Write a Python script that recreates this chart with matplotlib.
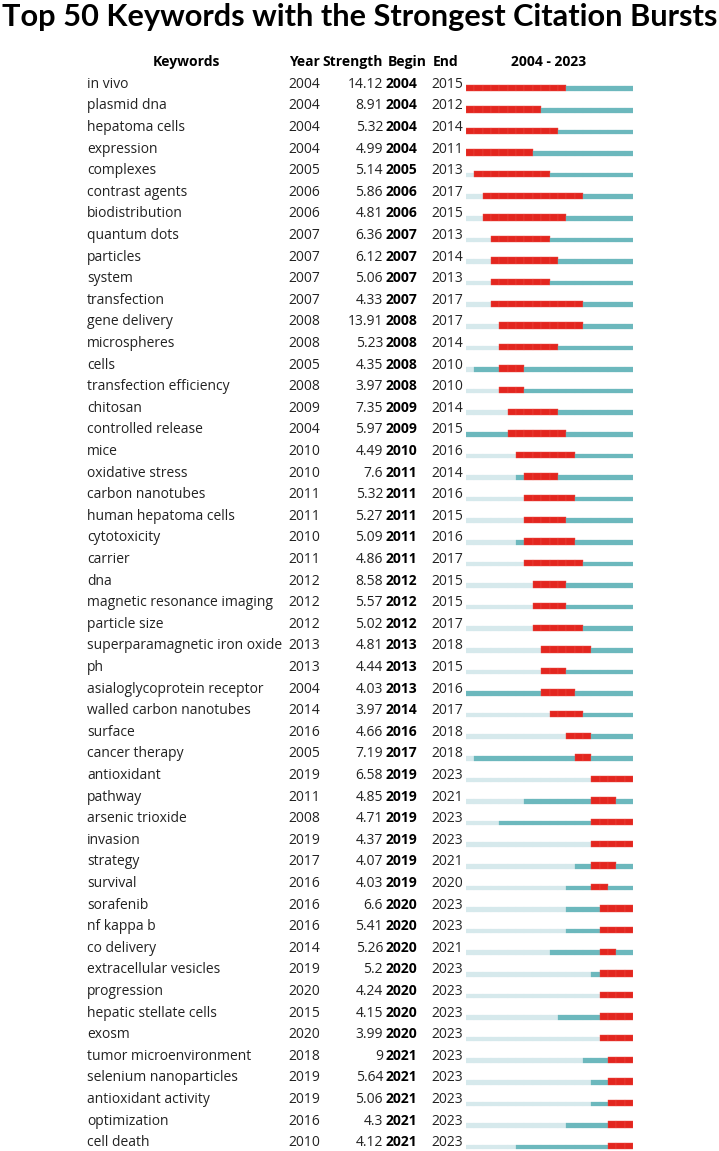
"""CiteSpace-style citation burst table: top 50 keywords, 2004-2023."""

import matplotlib

matplotlib.use("Agg")
import matplotlib.pyplot as plt
from matplotlib import font_manager

# ---- data -------------------------------------------------------------
keywords = [
    "in vivo", "plasmid dna", "hepatoma cells", "expression", "complexes",
    "contrast agents", "biodistribution", "quantum dots", "particles", "system",
    "transfection", "gene delivery", "microspheres", "cells",
    "transfection efficiency", "chitosan", "controlled release", "mice",
    "oxidative stress", "carbon nanotubes", "human hepatoma cells",
    "cytotoxicity", "carrier", "dna", "magnetic resonance imaging",
    "particle size", "superparamagnetic iron oxide", "ph",
    "asialoglycoprotein receptor", "walled carbon nanotubes", "surface",
    "cancer therapy", "antioxidant", "pathway", "arsenic trioxide", "invasion",
    "strategy", "survival", "sorafenib", "nf kappa b", "co delivery",
    "extracellular vesicles", "progression", "hepatic stellate cells", "exosm",
    "tumor microenvironment", "selenium nanoparticles", "antioxidant activity",
    "optimization", "cell death",
]
first_year = [
    2004, 2004, 2004, 2004, 2005, 2006, 2006, 2007, 2007, 2007,
    2007, 2008, 2008, 2005, 2008, 2009, 2004, 2010, 2010, 2011,
    2011, 2010, 2011, 2012, 2012, 2012, 2013, 2013, 2004, 2014,
    2016, 2005, 2019, 2011, 2008, 2019, 2017, 2016, 2016, 2016,
    2014, 2019, 2020, 2015, 2020, 2018, 2019, 2019, 2016, 2010,
]
strength = [
    "14.12", "8.91", "5.32", "4.99", "5.14", "5.86", "4.81", "6.36", "6.12", "5.06",
    "4.33", "13.91", "5.23", "4.35", "3.97", "7.35", "5.97", "4.49", "7.6", "5.32",
    "5.27", "5.09", "4.86", "8.58", "5.57", "5.02", "4.81", "4.44", "4.03", "3.97",
    "4.66", "7.19", "6.58", "4.85", "4.71", "4.37", "4.07", "4.03", "6.6", "5.41",
    "5.26", "5.2", "4.24", "4.15", "3.99", "9", "5.64", "5.06", "4.3", "4.12",
]
begin = [
    2004, 2004, 2004, 2004, 2005, 2006, 2006, 2007, 2007, 2007,
    2007, 2008, 2008, 2008, 2008, 2009, 2009, 2010, 2011, 2011,
    2011, 2011, 2011, 2012, 2012, 2012, 2013, 2013, 2013, 2014,
    2016, 2017, 2019, 2019, 2019, 2019, 2019, 2019, 2020, 2020,
    2020, 2020, 2020, 2020, 2020, 2021, 2021, 2021, 2021, 2021,
]
end = [
    2015, 2012, 2014, 2011, 2013, 2017, 2015, 2013, 2014, 2013,
    2017, 2017, 2014, 2010, 2010, 2014, 2015, 2016, 2014, 2016,
    2015, 2016, 2017, 2015, 2015, 2017, 2018, 2015, 2016, 2017,
    2018, 2018, 2023, 2021, 2023, 2023, 2021, 2020, 2023, 2023,
    2021, 2023, 2023, 2023, 2023, 2023, 2023, 2023, 2023, 2023,
]
start_year, stop_year = 2004, 2023
headers = ["Keywords", "Year", "Strength", "Begin", "End", f"{start_year} - {stop_year}"]
title = "Top 50 Keywords with the Strongest Citation Bursts"

# ---- style ------------------------------------------------------------
RED = "#e3261f"
TEAL = "#6cb8bd"
LIGHT = "#d6e9ec"
TXT = "#222222"

W, H, DPI = 719, 1151, 100
ROW_PX, ROW0_PX = 21.6, 83.0          # row pitch and centre of first row (px)

installed = {f.name for f in font_manager.fontManager.ttflist}
BODY = [f for f in ("Open Sans", "Noto Sans", "DejaVu Sans") if f in installed]
TITLE_FONT = [f for f in ("Lato", "Open Sans", "DejaVu Sans") if f in installed]
plt.rcParams["font.family"] = BODY
FS = 10.0

fig = plt.figure(figsize=(W / DPI, H / DPI), dpi=DPI)
y_top = -ROW0_PX / ROW_PX
y_bot = (H - ROW0_PX) / ROW_PX

# table text axes: x in pixels, y in row units
ax = fig.add_axes([0, 0, 1, 1])
ax.set_xlim(0, W)
ax.set_ylim(y_bot, y_top)
ax.axis("off")

# bar axes: x in years
bx = fig.add_axes([466 / W, 0, 167 / W, 1])
bx.set_xlim(start_year, stop_year + 1)
bx.set_ylim(y_bot, y_top)
bx.axis("off")

BASE = 0.22        # text baseline offset below row centre (row units)
BOTTOM = 0.37      # bar bottom edge offset (row units)
H_RED, H_TEAL = 0.30, 0.21

years = list(range(start_year, stop_year + 1))
for i, kw in enumerate(keywords):
    yb = i + BASE
    ax.text(87, yb, kw, ha="left", va="baseline", fontsize=FS, color=TXT)
    ax.text(288, yb, str(first_year[i]), ha="left", va="baseline", fontsize=FS, color=TXT)
    ax.text(383, yb, strength[i], ha="right", va="baseline", fontsize=FS, color=TXT)
    ax.text(386, yb, str(begin[i]), ha="left", va="baseline", fontsize=FS,
            color="black", fontweight="bold")
    ax.text(431, yb, str(end[i]), ha="left", va="baseline", fontsize=FS, color=TXT)

    for yr in years:
        if begin[i] <= yr <= end[i]:
            col, h, ec, lw = RED, H_RED, "#ec4c42", 0.3
        elif yr >= first_year[i]:
            col, h, ec, lw = TEAL, H_TEAL, TEAL, 0.2
        else:
            col, h, ec, lw = LIGHT, H_TEAL, LIGHT, 0.2
        bx.barh(i + BOTTOM - h / 2, 1, left=yr, height=h, color=col,
                edgecolor=ec, linewidth=lw, align="center")

# header row
hy = -1 + BASE
hdr_x = [186, 304, 353, 407, 446, 549]
for x, t in zip(hdr_x, headers):
    ax.text(x, hy, t, ha="center", va="baseline", fontsize=FS,
            fontweight="bold", color="black")

# title, sized to span the figure width
tt = fig.text(0.5, 1 - 26 / H, title, ha="center", va="baseline",
              fontsize=20, fontweight="bold", color="black", family=TITLE_FONT)
fig.canvas.draw()
w = tt.get_window_extent().width
tt.set_fontsize(20 * 716 / w)

fig.savefig("out.png", dpi=DPI)
